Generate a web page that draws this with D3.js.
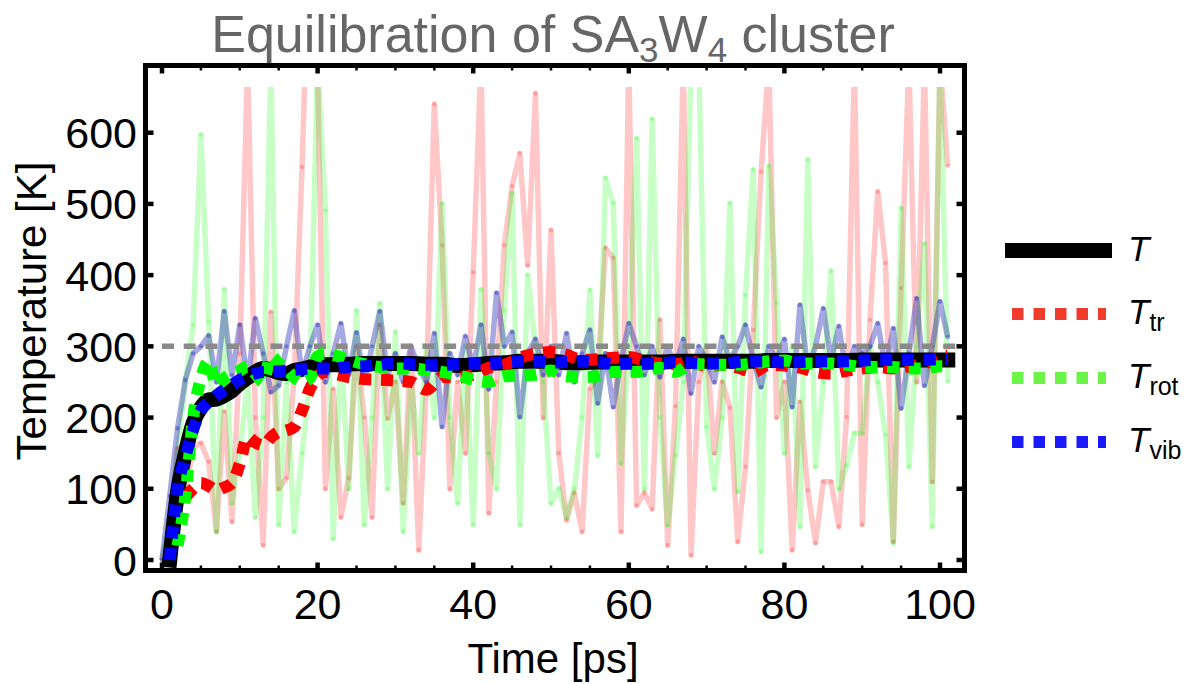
<!DOCTYPE html>
<html>
<head>
<meta charset="utf-8">
<script src="https://cdn.jsdelivr.net/npm/d3@7"></script>
<style>
  body { margin: 0; background: #fff; }
  text { font-family: "Liberation Sans", Arial, sans-serif; }
</style>
</head>
<body>
<div id="chart"></div>
<script>
// sampling times of the instantaneous temperatures [ps]
const timeSteps = [0,1,2,3,4,5,6,7,8,9,10,11,12,13,14,15,16,17,18,19,20,21,22,23,24,25,26,27,28,29,30,31,32,33,34,35,36,37,38,39,40,
  41,42,43,44,45,46,47,48,49,50,51,52,53,54,55,56,57,58,59,60,61,62,63,64,65,66,67,68,69,70,71,72,73,74,75,76,77,78,79,80,
  81,82,83,84,85,86,87,88,89,90,91,92,93,94,95,96,97,98,99,100,101];

// instantaneous temperatures [K] (values above ~664 are cut by the plot range)
const tTrRaw = [0,40,157,95,159,164,138,40,208,54,290,700,200,21,348,100,115,260,552,900,682,100,240,60,115,300,200,60,330,199,250,
  80,300,14,250,640,442,100,250,150,404,700,66,250,442,525,571,414,655,200,463,150,56,94,40,240,260,438,424,40,700,
  77,94,72,337,21,216,700,7,250,300,150,250,214,26,131,323,545,700,200,250,14,222,98,24,110,110,47,201,700,50,
  337,517,417,26,382,700,250,700,110,700,553];
const tRotRaw = [0,60,150,250,330,597,335,40,380,80,150,250,60,200,700,50,250,40,150,250,700,491,30,300,100,350,50,200,360,100,320,
  40,250,150,300,200,500,200,80,300,50,380,150,100,350,515,50,400,300,250,80,100,60,100,200,379,147,536,501,136,300,
  592,100,619,200,49,147,250,700,700,187,100,200,501,96,372,548,12,553,361,150,300,47,562,131,250,406,100,133,178,178,
  300,250,176,24,494,131,300,444,47,700,250];
const tVibRaw = [0,90,185,253,290,300,315,250,349,260,330,250,339,290,236,245,300,350,260,300,330,250,290,332,260,319,250,300,349,260,290,
  250,300,270,250,318,187,290,260,314,270,330,240,375,300,320,201,290,310,260,300,260,318,250,290,323,220,290,215,280,332,
  300,260,300,257,300,270,310,234,300,280,250,313,280,300,330,280,243,300,280,310,215,358,270,300,353,280,328,260,300,290,
  300,332,270,325,213,290,367,245,300,363,313];

// running averages [K]
const avgTimes = [1,2,3,4,5,6,7,8,9,10,11,12,13,14,15,16,17,18,19,20,21,22,24,26,28,30,32,34,36,38,40,42,44,46,48,50,
  52,54,56,58,60,62,64,66,68,70,72,74,76,78,80,82,84,86,88,90,92,94,96,98,100,101];
const tAvg = [0,95,150,192,214,225,226,231,238,248,256,264,269,267,263,262,266,268,271,273,274,274,275,276,276,276,276,275,275,273,274,276,277,279,279,279,
  277,277,278,278,278,278,278,279,279,279,279,279,279,280,280,280,280,280,280,281,281,281,281,281,281,281];
const tTrAvg = [null,null,88,100,108,104,98,102,108,135,173,165,161,172,180,182,187,210,240,258,264,262,257,254,253,252,250,239,257,256,260,270,274,284,290,292,
  288,281,282,284,285,280,276,275,279,272,274,270,264,274,273,270,264,262,266,269,271,269,272,276,285,287];
const tRotAvg = [null,20,90,200,255,279,245,255,262,266,272,262,250,286,276,268,256,250,255,286,290,288,281,275,271,269,269,267,264,260,253,250,258,259,260,266,
  258,257,258,264,264,265,270,264,275,275,274,274,276,279,280,276,276,276,274,271,271,271,269,269,272,272];
const tVibAvg = [0,100,145,183,210,222,231,239,246,253,258,262,264,264,265,266,267,268,269,269,269,269,271,272,274,276,275,274,274,275,276,276,278,279,279,277,
  278,279,278,276,276,276,276,278,277,276,276,278,279,279,277,278,279,279,279,280,281,281,281,281,282,282];

const targetTemp = 300;
const targetSpan = [0, 102];
const xTicks = [0, 20, 40, 60, 80, 100];
const xMinorTicks = [5, 10, 15, 25, 30, 35, 45, 50, 55, 65, 70, 75, 85, 90, 95];
const yTicks = [0, 100, 200, 300, 400, 500, 600];
const legendNames = ["tr", "rot", "vib"];

const width = 1185, height = 684;
const frame = { left: 145.5, right: 964.5, top: 65.5, bottom: 570.5 };

const x = d3.scaleLinear().domain([0, 100]).range([162, 940]);
const y = d3.scaleLinear().domain([0, 600]).range([560, 132.7]);

const svg = d3.select('#chart').append('svg')
  .attr('width', width)
  .attr('height', height)
  .attr('viewBox', [0, 0, width, height]);

svg.append('defs').append('clipPath').attr('id', 'rawClip')
  .append('rect')
  .attr('x', frame.left + 2.5)
  .attr('y', y(664))
  .attr('width', frame.right - frame.left - 5)
  .attr('height', frame.bottom - 2.5 - y(664));

svg.append('defs').append('clipPath').attr('id', 'frameClip')
  .append('rect')
  .attr('x', frame.left + 2.5)
  .attr('y', frame.top + 2.5)
  .attr('width', frame.right - frame.left - 5)
  .attr('height', frame.bottom - frame.top - 5);

// raw series
const rawLine = d3.line()
  .x((d, i) => x(timeSteps[i]))
  .y(d => y(d));

const raws = [
  { values: tTrRaw, color: '#ff0000', opacity: 0.22 },
  { values: tRotRaw, color: '#00ff00', opacity: 0.22 },
  { values: tVibRaw, color: '#2a30b8', opacity: 0.42 }
];

const rawG = svg.append('g').attr('clip-path', 'url(#rawClip)');
raws.forEach(s => {
  rawG.append('path')
    .attr('d', rawLine(s.values))
    .attr('fill', 'none')
    .attr('stroke', s.color)
    .attr('stroke-opacity', s.opacity)
    .attr('stroke-width', 5.5)
    .attr('stroke-linejoin', 'round');
  rawG.append('g').selectAll('circle')
    .data(s.values)
    .join('circle')
    .attr('cx', (d, i) => x(timeSteps[i]))
    .attr('cy', d => y(d))
    .attr('r', 2.2)
    .attr('fill', s.color)
    .attr('fill-opacity', s.opacity);
});

const avgG = svg.append('g').attr('clip-path', 'url(#frameClip)');

// 300 K reference
avgG.append('line')
  .attr('x1', x(targetSpan[0])).attr('x2', x(targetSpan[1]))
  .attr('y1', y(targetTemp)).attr('y2', y(targetTemp))
  .attr('stroke', '#8a8a8a')
  .attr('stroke-width', 5.5)
  .attr('stroke-dasharray', '12 9.7');

const avgLine = d3.line()
  .defined(d => d != null)
  .x((d, i) => x(avgTimes[i]))
  .y(d => y(d))
  .curve(d3.curveMonotoneX);

avgG.append('path')
  .attr('d', avgLine(tAvg))
  .attr('fill', 'none')
  .attr('stroke', '#000')
  .attr('stroke-width', 15)
  .attr('stroke-linecap', 'square');

const dotted = [
  { values: tTrAvg, color: '#ff0000' },
  { values: tRotAvg, color: '#00ff00' },
  { values: tVibAvg, color: '#0000ff' }
];
dotted.forEach(s => {
  avgG.append('path')
    .attr('d', avgLine(s.values))
    .attr('fill', 'none')
    .attr('stroke', s.color)
    .attr('stroke-width', 12)
    .attr('stroke-dasharray', '12 9.7');
});

// frame and ticks
svg.append('rect')
  .attr('x', frame.left).attr('y', frame.top)
  .attr('width', frame.right - frame.left)
  .attr('height', frame.bottom - frame.top)
  .attr('fill', 'none')
  .attr('stroke', '#000')
  .attr('stroke-width', 5);

const tickG = svg.append('g').attr('stroke', '#000');
xTicks.forEach(t => {
  tickG.append('line').attr('x1', x(t)).attr('x2', x(t))
    .attr('y1', frame.bottom).attr('y2', frame.bottom - 8).attr('stroke-width', 4.5);
  tickG.append('line').attr('x1', x(t)).attr('x2', x(t))
    .attr('y1', frame.top).attr('y2', frame.top + 8).attr('stroke-width', 4.5);
});
xMinorTicks.forEach(t => {
  tickG.append('line').attr('x1', x(t)).attr('x2', x(t))
    .attr('y1', frame.bottom).attr('y2', frame.bottom - 5).attr('stroke-width', 2.5);
  tickG.append('line').attr('x1', x(t)).attr('x2', x(t))
    .attr('y1', frame.top).attr('y2', frame.top + 5).attr('stroke-width', 2.5);
});
yTicks.forEach(v => {
  tickG.append('line').attr('x1', frame.left).attr('x2', frame.left + 8)
    .attr('y1', y(v)).attr('y2', y(v)).attr('stroke-width', 4.5);
  tickG.append('line').attr('x1', frame.right).attr('x2', frame.right - 8)
    .attr('y1', y(v)).attr('y2', y(v)).attr('stroke-width', 4.5);
});

// tick labels
svg.append('g').selectAll('text')
  .data(xTicks)
  .join('text')
  .attr('x', d => x(d))
  .attr('y', 619)
  .attr('text-anchor', 'middle')
  .attr('font-size', 43)
  .text(d => d);

svg.append('g').selectAll('text')
  .data(yTicks)
  .join('text')
  .attr('x', 137)
  .attr('y', d => y(d) + 15.5)
  .attr('text-anchor', 'end')
  .attr('font-size', 43)
  .text(d => d);

// axis labels
svg.append('text')
  .attr('x', 553).attr('y', 673)
  .attr('text-anchor', 'middle')
  .attr('font-size', 42)
  .text('Time [ps]');

svg.append('text')
  .attr('transform', 'translate(46,311) rotate(-90)')
  .attr('text-anchor', 'middle')
  .attr('font-size', 42)
  .text('Temperature [K]');

// title
const title = svg.append('text')
  .attr('x', 553).attr('y', 52)
  .attr('text-anchor', 'middle')
  .attr('font-size', 52)
  .attr('fill', '#666');
title.append('tspan').text('Equilibration of SA');
title.append('tspan').attr('dy', 10).attr('font-size', 35).text('3');
title.append('tspan').attr('dy', -10).text('W');
title.append('tspan').attr('dy', 10).attr('font-size', 35).text('4');
title.append('tspan').attr('dy', -10).text(' cluster');

// legend
const legend = svg.append('g');
legend.append('line')
  .attr('x1', 1005).attr('x2', 1112)
  .attr('y1', 250.5).attr('y2', 250.5)
  .attr('stroke', '#000').attr('stroke-width', 15);
legend.append('text')
  .attr('x', 1128).attr('y', 261)
  .attr('font-size', 35).attr('font-style', 'italic')
  .text('T');

const legendColors = ['#f03c2c', '#6cf548', '#1a1aff'];
const legendY = [314, 378, 442];
legendNames.forEach((name, i) => {
  legend.append('line')
    .attr('x1', 1012).attr('x2', 1106)
    .attr('y1', legendY[i]).attr('y2', legendY[i])
    .attr('stroke', legendColors[i]).attr('stroke-width', 12)
    .attr('stroke-dasharray', '11.5 10');
  const lbl = legend.append('text')
    .attr('x', 1128).attr('y', legendY[i] + 10)
    .attr('font-size', 35);
  lbl.append('tspan').attr('font-style', 'italic').text('T');
  lbl.append('tspan').attr('dy', 7).attr('font-size', 25).text(name);
});
</script>
</body>
</html>
